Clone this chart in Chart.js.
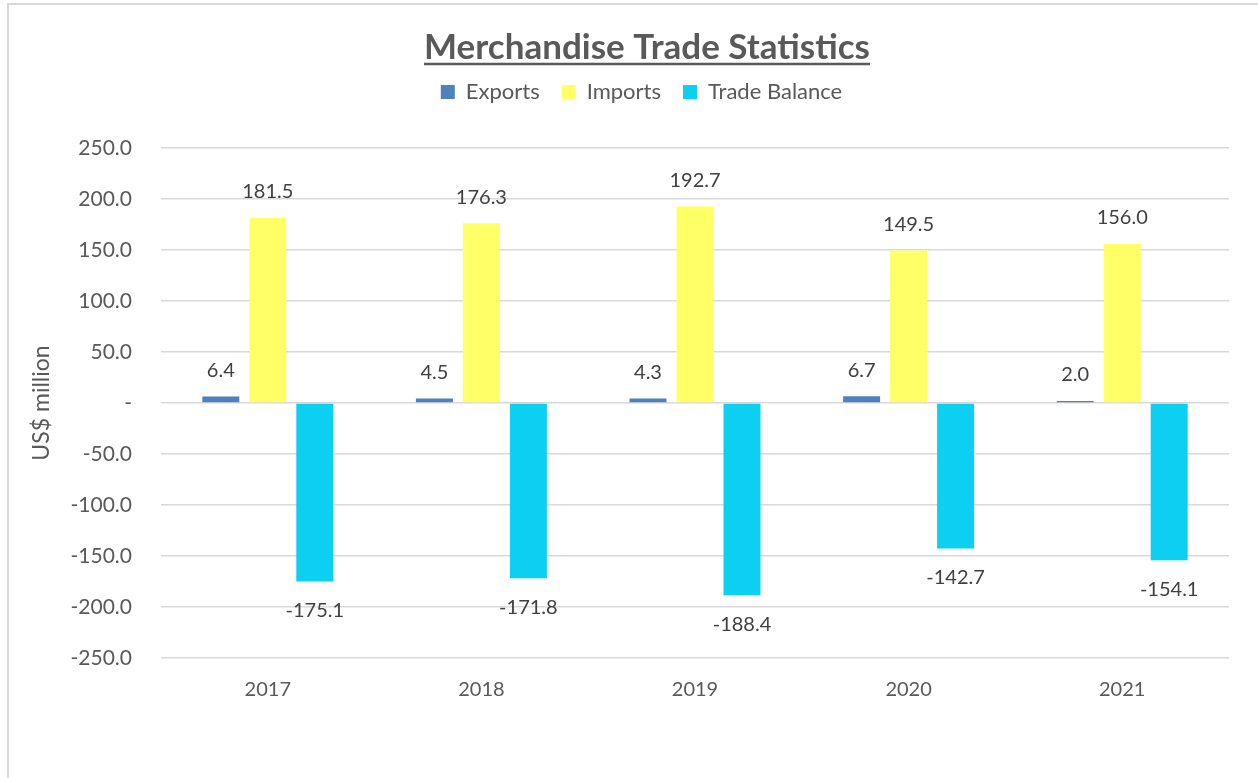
<!DOCTYPE html>
<html>
<head>
<meta charset="utf-8">
<script src="https://cdn.jsdelivr.net/npm/chart.js@4/dist/chart.umd.min.js"></script>
<style>
  html, body { margin: 0; padding: 0; background: #ffffff; }
  #wrap { position: absolute; left: 0; top: 0; width: 1258px; height: 778px; }
</style>
</head>
<body>
<div id="wrap"><canvas id="c" width="1258" height="778"></canvas></div>
<script>
// ---- data ----
const categories = ['2017', '2018', '2019', '2020', '2021'];
const exportsValues = [6.4, 4.5, 4.3, 6.7, 2.0];
const importsValues = [181.5, 176.3, 192.7, 149.5, 156.0];
const balanceValues = [-175.1, -171.8, -188.4, -142.7, -154.1];
const seriesNames = ['Exports', 'Imports', 'Trade Balance'];
const yMin = -250, yMax = 250, yStep = 50;
const chartTitle = 'Merchandise Trade Statistics';
const yAxisTitle = 'US$ million';

const FONT = 'Lato, "Open Sans", sans-serif';
const TEXT = '#595959';
const LABEL = '#404040';
const GRID = '#d9d9d9';
const TITLE_SIZE = 35;

const borderPlugin = {
  id: 'frame',
  beforeDraw(chart) {
    const ctx = chart.ctx;
    ctx.save();
    ctx.fillStyle = '#ffffff';
    ctx.fillRect(0, 0, chart.width, chart.height);
    ctx.strokeStyle = GRID;
    ctx.lineWidth = 2;
    ctx.beginPath();
    ctx.moveTo(8, chart.height);
    ctx.lineTo(8, 4);
    ctx.lineTo(chart.width, 4);
    ctx.stroke();
    ctx.restore();
  }
};

// shift title / legend horizontally as in the reference
const headerShift = {
  id: 'headerShift',
  afterLayout(chart) {
    if (chart.titleBlock) chart.titleBlock.left += 56;
    if (chart.legend) chart.legend.left += 45;
  }
};

const underlinePlugin = {
  id: 'titleUnderline',
  afterDraw(chart) {
    const t = chart.titleBlock;
    if (!t) return;
    const ctx = chart.ctx;
    ctx.save();
    ctx.font = 'bold ' + TITLE_SIZE + 'px ' + FONT;
    const w = ctx.measureText(chartTitle).width;
    const cx = (t.left + t.right) / 2;
    const opts = chart.options.plugins.title;
    const cy = t.top + opts.padding.top + TITLE_SIZE * 1.2 / 2;
    ctx.strokeStyle = TEXT;
    ctx.lineWidth = 2.7;
    ctx.beginPath();
    ctx.moveTo(cx - w / 2, cy + 16);
    ctx.lineTo(cx + w / 2, cy + 16);
    ctx.stroke();
    ctx.restore();
  }
};

const legendSpacer = {
  id: 'legendSpacer',
  afterInit(chart) {
    const lg = chart.legend;
    if (!lg) return;
    const orig = lg.fit;
    lg.fit = function () {
      orig.call(this);
      this.height += 35;
    };
  }
};

const valueLabels = {
  id: 'valueLabels',
  afterDatasetsDraw(chart) {
    const ctx = chart.ctx;
    ctx.save();
    ctx.font = '20px ' + FONT;
    ctx.fillStyle = LABEL;
    ctx.textAlign = 'center';
    ctx.textBaseline = 'middle';
    chart.data.datasets.forEach((ds, i) => {
      const meta = chart.getDatasetMeta(i);
      meta.data.forEach((bar, j) => {
        const v = ds.data[j];
        const y = v >= 0 ? bar.y - 26 : bar.y + 29;
        ctx.fillText(v.toFixed(1), bar.x, y);
      });
    });
    ctx.restore();
  }
};

new Chart(document.getElementById('c'), {
  type: 'bar',
  data: {
    labels: categories,
    datasets: [
      { label: seriesNames[0], data: exportsValues, backgroundColor: '#4f81bd' },
      { label: seriesNames[1], data: importsValues, backgroundColor: '#ffff66' },
      { label: seriesNames[2], data: balanceValues, backgroundColor: '#0dcff2' }
    ]
  },
  options: {
    responsive: false,
    animation: false,
    events: [],
    categoryPercentage: 0.66,
    barPercentage: 0.787,
    layout: { padding: { left: 9, right: 29, top: 5, bottom: 56 } },
    plugins: {
      title: {
        display: true,
        text: chartTitle,
        color: TEXT,
        font: { family: FONT, size: TITLE_SIZE, weight: 'bold', lineHeight: 1.2 },
        padding: { top: 22, bottom: -10 }
      },
      legend: {
        display: true,
        position: 'top',
        labels: {
          color: TEXT,
          font: { family: FONT, size: 22 },
          boxWidth: 14,
          boxHeight: 14,
          padding: 22
        }
      },
      tooltip: { enabled: false }
    },
    scales: {
      x: {
        grid: { display: false, drawTicks: false },
        border: { display: false },
        ticks: { color: TEXT, font: { family: FONT, size: 20 }, padding: 20 }
      },
      y: {
        min: yMin,
        max: yMax,
        afterFit(scale) { scale.width = 152; },
        grid: { color: GRID, lineWidth: 1.5, drawTicks: false },
        border: { display: false },
        ticks: {
          stepSize: yStep,
          color: TEXT,
          font: { family: FONT, size: 21 },
          padding: 29,
          callback: (v) => v === 0 ? '-' : Number(v).toFixed(1)
        },
        title: {
          display: true,
          text: yAxisTitle,
          color: TEXT,
          font: { family: FONT, size: 23 },
          padding: { top: 19, bottom: 0 }
        }
      }
    }
  },
  plugins: [borderPlugin, headerShift, underlinePlugin, legendSpacer, valueLabels]
});
</script>
</body>
</html>
